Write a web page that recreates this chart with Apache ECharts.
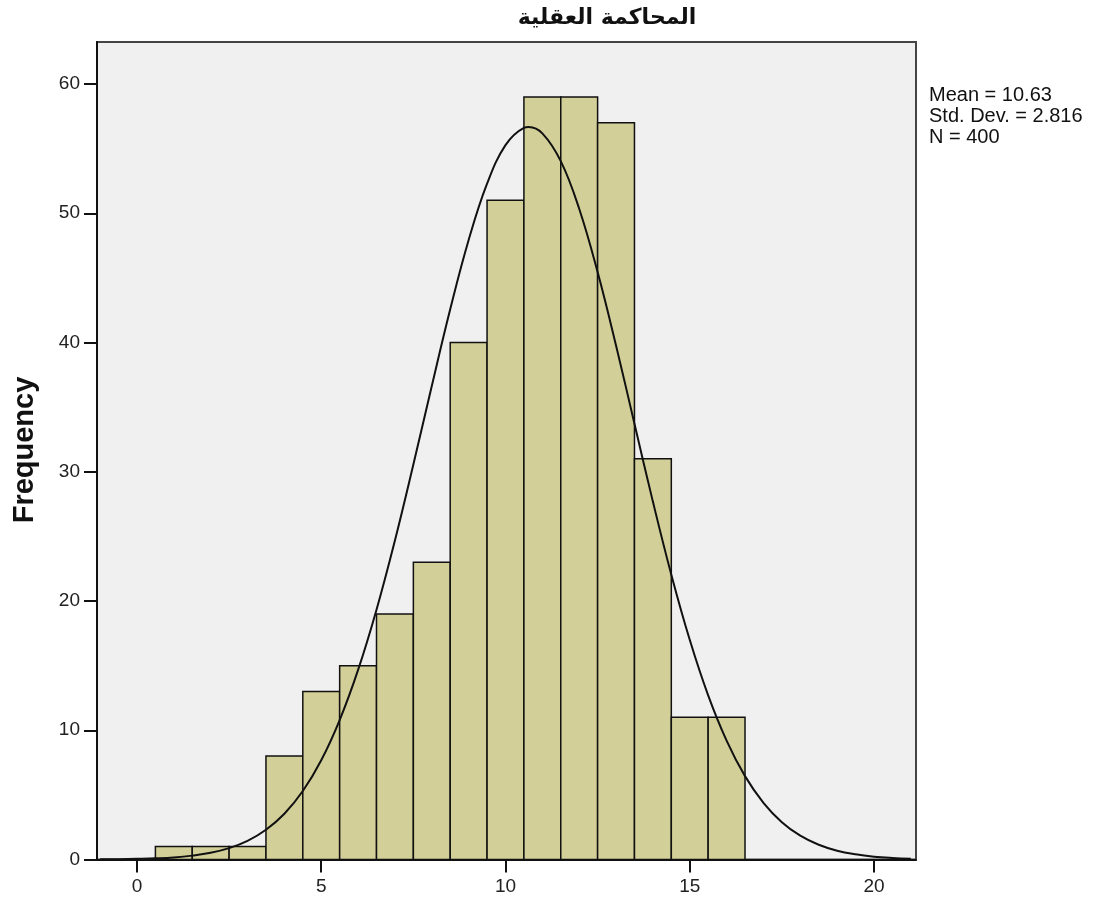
<!DOCTYPE html>
<html>
<head>
<meta charset="utf-8">
<script src="https://cdn.jsdelivr.net/npm/echarts@6/dist/echarts.min.js"></script>
<style>html,body{margin:0;padding:0;background:#fff;}#c{width:1100px;height:902px;}</style>
</head>
<body>
<div id="c"></div>
<script>
// Histogram bins (centre of each bin, width 1) and frequencies
const binCenters = [1, 2, 3, 4, 5, 6, 7, 8, 9, 10, 11, 12, 13, 14, 15, 16];
const frequencies = [1, 1, 1, 8, 13, 15, 19, 23, 40, 51, 59, 59, 57, 31, 11, 11];
// Fitted normal curve
const curveX = [-1, -0.5, 0, 0.5, 1, 1.5, 2, 2.5, 3, 3.5, 4, 4.5, 5, 5.5, 6, 6.5, 7, 7.5, 8, 8.5, 9, 9.5, 10, 10.5, 10.63, 11, 11.5, 12, 12.5, 13, 13.5, 14, 14.5, 15, 15.5, 16, 16.5, 17, 17.5, 18, 18.5, 19, 19.5, 20, 20.5, 21];
const curveY = [0.01, 0.02, 0.05, 0.09, 0.16, 0.30, 0.52, 0.88, 1.44, 2.30, 3.54, 5.30, 7.68, 10.79, 14.67, 19.33, 24.69, 30.56, 36.64, 42.57, 47.93, 52.29, 55.27, 56.61, 56.67, 56.18, 54.03, 50.35, 45.45, 39.77, 33.71, 27.69, 22.04, 17.00, 12.70, 9.20, 6.45, 4.39, 2.89, 1.84, 1.14, 0.68, 0.40, 0.22, 0.12, 0.06];
const xTicks = [0, 5, 10, 15, 20];
const yTicks = [0, 10, 20, 30, 40, 50, 60];
const titleText = 'المحاكمة العقلية';
const yAxisName = 'Frequency';
const statsLines = ['Mean = 10.63', 'Std. Dev. = 2.816', 'N = 400'];

const chart = echarts.init(document.getElementById('c'), null, {renderer: 'canvas'});
const font = 'Arial, "Liberation Sans", sans-serif';
chart.setOption({
  animation: false,
  backgroundColor: '#ffffff',
  title: {
    text: titleText,
    left: 602, top: 2, textAlign: 'center',
    textStyle: {fontFamily: '"DejaVu Sans", Arial, sans-serif', fontSize: 22, fontWeight: 'bold', color: '#111'}
  },
  graphic: [{
    type: 'text', left: 929, top: 85,
    style: {text: statsLines.join('\n'), font: '20px ' + font, fill: '#111', lineHeight: 21}
  }, {
    type: 'text', x: 25, y: 450, rotation: Math.PI / 2,
    style: {text: yAxisName, font: 'bold 29px ' + font, fill: '#111', align: 'center', verticalAlign: 'middle'}
  }],
  grid: {
    left: 97, top: 42, width: 819, height: 817.5,
    show: true, backgroundColor: '#f0f0f0', borderColor: '#444', borderWidth: 2
  },
  xAxis: {
    type: 'value', min: -1.085, max: 21.14,
    splitLine: {show: false},
    axisLine: {show: true, onZero: false, lineStyle: {color: '#111', width: 2}},
    axisTick: {show: true, length: 13, customValues: xTicks, lineStyle: {color: '#111', width: 2}},
    axisLabel: {customValues: xTicks, fontFamily: font, fontSize: 19, color: '#222', margin: 18}
  },
  yAxis: {
    type: 'value', min: 0, max: 63.25,
    splitLine: {show: false},
    axisLine: {show: true, onZero: false, lineStyle: {color: '#111', width: 2}},
    axisTick: {show: true, length: 13, customValues: yTicks, lineStyle: {color: '#111', width: 2}},
    axisLabel: {customValues: yTicks, fontFamily: font, fontSize: 19, color: '#222', margin: 17}
  },
  series: [{
    type: 'custom',
    data: binCenters.map((c, i) => [c, frequencies[i]]),
    renderItem: function (params, api) {
      const c = api.value(0), f = api.value(1);
      const p0 = api.coord([c - 0.5, f]);
      const p1 = api.coord([c + 0.5, 0]);
      return {
        type: 'rect',
        shape: {x: p0[0], y: p0[1], width: p1[0] - p0[0], height: p1[1] - p0[1]},
        style: {fill: '#d3cf98', stroke: '#111', lineWidth: 1.5}
      };
    },
    z: 2
  }, {
    type: 'line',
    data: curveX.map((x, i) => [x, curveY[i]]),
    smooth: 0.4, showSymbol: false, symbol: 'none',
    lineStyle: {color: '#111', width: 2},
    clip: true,
    z: 3
  }]
});
</script>
</body>
</html>
